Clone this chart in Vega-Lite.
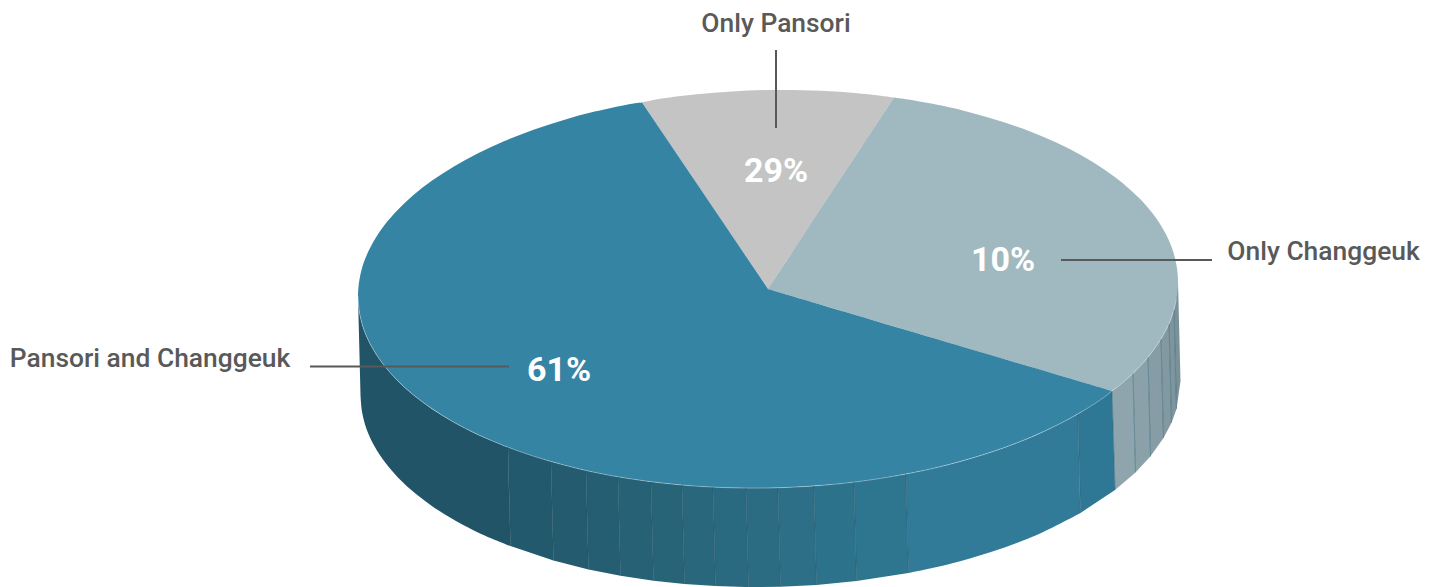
{
"$schema":"https://vega.github.io/schema/vega-lite/v6.json",
"width":1435,"height":587,"padding":0,"autosize":{"type":"none"},
"background":"#ffffff",
"config":{"view":{"stroke":null}},
"datasets":{
"facets":[
{"p":"side02","i":1,"x":-260,"y":-158.1},{"p":"side02","i":2,"x":-217,"y":-172.5},{"p":"side02","i":3,"x":-214.5,"y":-271.5},{"p":"side02","i":4,"x":-257.5,"y":-257.1},
{"p":"side03","i":1,"x":-217,"y":-172.5},{"p":"side03","i":2,"x":-182,"y":-181.4},{"p":"side03","i":3,"x":-179.5,"y":-280.4},{"p":"side03","i":4,"x":-214.5,"y":-271.5},
{"p":"side04","i":1,"x":-182,"y":-181.4},{"p":"side04","i":2,"x":-150,"y":-187.8},{"p":"side04","i":3,"x":-147.5,"y":-286.8},{"p":"side04","i":4,"x":-179.5,"y":-280.4},
{"p":"side05","i":1,"x":-150,"y":-187.8},{"p":"side05","i":2,"x":-117,"y":-192.7},{"p":"side05","i":3,"x":-114.5,"y":-291.7},{"p":"side05","i":4,"x":-147.5,"y":-286.8},
{"p":"side06","i":1,"x":-117,"y":-192.7},{"p":"side06","i":2,"x":-86,"y":-196.1},{"p":"side06","i":3,"x":-83.5,"y":-295.1},{"p":"side06","i":4,"x":-114.5,"y":-291.7},
{"p":"side07","i":1,"x":-86,"y":-196.1},{"p":"side07","i":2,"x":-55,"y":-198.1},{"p":"side07","i":3,"x":-52.5,"y":-297.1},{"p":"side07","i":4,"x":-83.5,"y":-295.1},
{"p":"side08","i":1,"x":-55,"y":-198.1},{"p":"side08","i":2,"x":-22,"y":-199.1},{"p":"side08","i":3,"x":-19.5,"y":-298.1},{"p":"side08","i":4,"x":-52.5,"y":-297.1},
{"p":"side09","i":1,"x":-22,"y":-199.1},{"p":"side09","i":2,"x":10,"y":-198.7},{"p":"side09","i":3,"x":12.5,"y":-297.7},{"p":"side09","i":4,"x":-19.5,"y":-298.1},
{"p":"side10","i":1,"x":10,"y":-198.7},{"p":"side10","i":2,"x":46,"y":-196.9},{"p":"side10","i":3,"x":48.5,"y":-295.9},{"p":"side10","i":4,"x":12.5,"y":-297.7},
{"p":"side11","i":1,"x":46,"y":-196.9},{"p":"side11","i":2,"x":86,"y":-193.1},{"p":"side11","i":3,"x":88.5,"y":-292.1},{"p":"side11","i":4,"x":48.5,"y":-295.9},
{"p":"side12","i":1,"x":86,"y":-193.1},{"p":"side12","i":2,"x":138,"y":-185},{"p":"side12","i":3,"x":140.5,"y":-284},{"p":"side12","i":4,"x":88.5,"y":-292.1},
{"p":"side14","i":1,"x":310,"y":-124.9},{"p":"side14","i":2,"x":344,"y":-102},{"p":"side14","i":3,"x":347,"y":-201},{"p":"side14","i":4,"x":312.5,"y":-223.9},
{"p":"side15","i":1,"x":344,"y":-102},{"p":"side15","i":2,"x":365,"y":-84.4},{"p":"side15","i":3,"x":367.5,"y":-183.4},{"p":"side15","i":4,"x":347,"y":-201},
{"p":"side16","i":1,"x":365,"y":-84.4},{"p":"side16","i":2,"x":380,"y":-68.2},{"p":"side16","i":3,"x":382.5,"y":-167.2},{"p":"side16","i":4,"x":367.5,"y":-183.4},
{"p":"side17","i":1,"x":380,"y":-68.2},{"p":"side17","i":2,"x":393,"y":-50},{"p":"side17","i":3,"x":395.5,"y":-149},{"p":"side17","i":4,"x":382.5,"y":-167.2},
{"p":"side18","i":1,"x":393,"y":-50},{"p":"side18","i":2,"x":401,"y":-34.7},{"p":"side18","i":3,"x":403.5,"y":-133.7},{"p":"side18","i":4,"x":395.5,"y":-149},
{"p":"side19","i":1,"x":401,"y":-34.7},{"p":"side19","i":2,"x":406,"y":-20.9},{"p":"side19","i":3,"x":408.5,"y":-119.9},{"p":"side19","i":4,"x":403.5,"y":-133.7},
{"p":"side20","i":1,"x":406,"y":-20.9},{"p":"side20","i":2,"x":410,"y":7},{"p":"side20","i":3,"x":412.5,"y":-92},{"p":"side20","i":4,"x":408.5,"y":-119.9}
],
"curved":[
{"p":"side01","i":0.5,"x":-410,"y":-7},{"p":"side01","i":1,"x":-410,"y":-7},{"p":"side01","i":2,"x":-408.4,"y":-24.3},{"p":"side01","i":3,"x":-403.8,"y":-41.4},{"p":"side01","i":4,"x":-396,"y":-58.3},{"p":"side01","i":5,"x":-385.3,"y":-74.6},{"p":"side01","i":6,"x":-371.6,"y":-90.4},{"p":"side01","i":7,"x":-355.1,"y":-105.6},{"p":"side01","i":8,"x":-335.9,"y":-119.9},{"p":"side01","i":9,"x":-314.1,"y":-133.3},{"p":"side01","i":10,"x":-289.9,"y":-145.7},{"p":"side01","i":11,"x":-260,"y":-158.1},{"p":"side01","i":11.5,"x":-260,"y":-158.1},{"p":"side01","i":12,"x":-257.5,"y":-257.1},{"p":"side01","i":12.5,"x":-257.5,"y":-257.1},{"p":"side01","i":13,"x":-287.4,"y":-244.7},{"p":"side01","i":14,"x":-311.6,"y":-232.3},{"p":"side01","i":15,"x":-333.4,"y":-218.9},{"p":"side01","i":16,"x":-352.6,"y":-204.6},{"p":"side01","i":17,"x":-369.1,"y":-189.4},{"p":"side01","i":18,"x":-382.8,"y":-173.6},{"p":"side01","i":19,"x":-393.5,"y":-157.3},{"p":"side01","i":20,"x":-401.3,"y":-140.4},{"p":"side01","i":21,"x":-405.9,"y":-123.3},{"p":"side01","i":22,"x":-407.5,"y":-106},{"p":"side01","i":22.5,"x":-407.5,"y":-106},
{"p":"side13","i":0.5,"x":138,"y":-185},{"p":"side13","i":1,"x":138,"y":-185},{"p":"side13","i":2,"x":180,"y":-175.7},{"p":"side13","i":3,"x":222,"y":-163.5},{"p":"side13","i":4,"x":265,"y":-147.4},{"p":"side13","i":5,"x":310,"y":-124.9},{"p":"side13","i":5.5,"x":310,"y":-124.9},{"p":"side13","i":6,"x":312.5,"y":-223.9},{"p":"side13","i":6.5,"x":312.5,"y":-223.9},{"p":"side13","i":7,"x":267.5,"y":-246.4},{"p":"side13","i":8,"x":224.5,"y":-262.5},{"p":"side13","i":9,"x":182.5,"y":-274.7},{"p":"side13","i":10,"x":140.5,"y":-284},{"p":"side13","i":10.5,"x":140.5,"y":-284},
{"p":"Only Pansori","i":0.5,"x":0,"y":0},{"p":"Only Pansori","i":1,"x":0,"y":0},{"p":"Only Pansori","i":1.5,"x":-126,"y":186.5},{"p":"Only Pansori","i":2,"x":-126,"y":186.5},{"p":"Only Pansori","i":3,"x":-106.1,"y":190.4},{"p":"Only Pansori","i":4,"x":-71.2,"y":194.8},{"p":"Only Pansori","i":5,"x":-35.8,"y":197.6},{"p":"Only Pansori","i":6,"x":0,"y":199},{"p":"Only Pansori","i":7,"x":35.8,"y":198.8},{"p":"Only Pansori","i":8,"x":71.2,"y":197.2},{"p":"Only Pansori","i":9,"x":106.1,"y":194},{"p":"Only Pansori","i":10,"x":126,"y":191.5},{"p":"Only Pansori","i":10.5,"x":126,"y":191.5},
{"p":"Only Changgeuk","i":0.5,"x":0,"y":0},{"p":"Only Changgeuk","i":1,"x":0,"y":0},{"p":"Only Changgeuk","i":1.5,"x":126,"y":191.5},{"p":"Only Changgeuk","i":2,"x":126,"y":191.5},{"p":"Only Changgeuk","i":3,"x":140.2,"y":189.4},{"p":"Only Changgeuk","i":4,"x":173.3,"y":183.4},{"p":"Only Changgeuk","i":5,"x":205,"y":175.8},{"p":"Only Changgeuk","i":6,"x":235.2,"y":167},{"p":"Only Changgeuk","i":7,"x":263.5,"y":156.9},{"p":"Only Changgeuk","i":8,"x":289.9,"y":145.7},{"p":"Only Changgeuk","i":9,"x":314.1,"y":133.3},{"p":"Only Changgeuk","i":10,"x":335.9,"y":119.8},{"p":"Only Changgeuk","i":11,"x":355.1,"y":105.6},{"p":"Only Changgeuk","i":12,"x":371.6,"y":90.4},{"p":"Only Changgeuk","i":13,"x":385.3,"y":74.7},{"p":"Only Changgeuk","i":14,"x":396,"y":58.3},{"p":"Only Changgeuk","i":15,"x":403.8,"y":41.5},{"p":"Only Changgeuk","i":16,"x":408.4,"y":24.3},{"p":"Only Changgeuk","i":17,"x":410,"y":7},{"p":"Only Changgeuk","i":18,"x":408.4,"y":-10.3},{"p":"Only Changgeuk","i":19,"x":403.8,"y":-27.7},{"p":"Only Changgeuk","i":20,"x":396,"y":-44.7},{"p":"Only Changgeuk","i":21,"x":385.3,"y":-61.5},{"p":"Only Changgeuk","i":22,"x":371.6,"y":-77.8},{"p":"Only Changgeuk","i":23,"x":355.1,"y":-93.4},{"p":"Only Changgeuk","i":24,"x":344,"y":-102},{"p":"Only Changgeuk","i":24.5,"x":344,"y":-102},
{"p":"Pansori and Changgeuk","i":0.5,"x":0,"y":0},{"p":"Pansori and Changgeuk","i":1,"x":0,"y":0},{"p":"Pansori and Changgeuk","i":1.5,"x":344,"y":-102},{"p":"Pansori and Changgeuk","i":2,"x":344,"y":-102},{"p":"Pansori and Changgeuk","i":3,"x":335.9,"y":-108.4},{"p":"Pansori and Changgeuk","i":4,"x":314.1,"y":-122.5},{"p":"Pansori and Changgeuk","i":5,"x":289.9,"y":-135.7},{"p":"Pansori and Changgeuk","i":6,"x":263.5,"y":-147.9},{"p":"Pansori and Changgeuk","i":7,"x":235.2,"y":-159},{"p":"Pansori and Changgeuk","i":8,"x":205,"y":-168.8},{"p":"Pansori and Changgeuk","i":9,"x":173.3,"y":-177.4},{"p":"Pansori and Changgeuk","i":10,"x":140.2,"y":-184.6},{"p":"Pansori and Changgeuk","i":11,"x":106.1,"y":-190.4},{"p":"Pansori and Changgeuk","i":12,"x":71.2,"y":-194.8},{"p":"Pansori and Changgeuk","i":13,"x":35.8,"y":-197.6},{"p":"Pansori and Changgeuk","i":14,"x":0,"y":-199},{"p":"Pansori and Changgeuk","i":15,"x":-35.8,"y":-198.8},{"p":"Pansori and Changgeuk","i":16,"x":-71.2,"y":-197.2},{"p":"Pansori and Changgeuk","i":17,"x":-106.1,"y":-194},{"p":"Pansori and Changgeuk","i":18,"x":-140.2,"y":-189.4},{"p":"Pansori and Changgeuk","i":19,"x":-173.3,"y":-183.4},{"p":"Pansori and Changgeuk","i":20,"x":-205,"y":-175.8},{"p":"Pansori and Changgeuk","i":21,"x":-235.2,"y":-167},{"p":"Pansori and Changgeuk","i":22,"x":-263.5,"y":-156.9},{"p":"Pansori and Changgeuk","i":23,"x":-289.9,"y":-145.7},{"p":"Pansori and Changgeuk","i":24,"x":-314.1,"y":-133.3},{"p":"Pansori and Changgeuk","i":25,"x":-335.9,"y":-119.8},{"p":"Pansori and Changgeuk","i":26,"x":-355.1,"y":-105.6},{"p":"Pansori and Changgeuk","i":27,"x":-371.6,"y":-90.4},{"p":"Pansori and Changgeuk","i":28,"x":-385.3,"y":-74.7},{"p":"Pansori and Changgeuk","i":29,"x":-396,"y":-58.3},{"p":"Pansori and Changgeuk","i":30,"x":-403.8,"y":-41.5},{"p":"Pansori and Changgeuk","i":31,"x":-408.4,"y":-24.3},{"p":"Pansori and Changgeuk","i":32,"x":-410,"y":-7},{"p":"Pansori and Changgeuk","i":33,"x":-408.4,"y":10.3},{"p":"Pansori and Changgeuk","i":34,"x":-403.8,"y":27.7},{"p":"Pansori and Changgeuk","i":35,"x":-396,"y":44.7},{"p":"Pansori and Changgeuk","i":36,"x":-385.3,"y":61.5},{"p":"Pansori and Changgeuk","i":37,"x":-371.6,"y":77.8},{"p":"Pansori and Changgeuk","i":38,"x":-355.1,"y":93.4},{"p":"Pansori and Changgeuk","i":39,"x":-335.9,"y":108.4},{"p":"Pansori and Changgeuk","i":40,"x":-314.1,"y":122.5},{"p":"Pansori and Changgeuk","i":41,"x":-289.9,"y":135.7},{"p":"Pansori and Changgeuk","i":42,"x":-263.5,"y":147.9},{"p":"Pansori and Changgeuk","i":43,"x":-235.2,"y":159},{"p":"Pansori and Changgeuk","i":44,"x":-205,"y":168.8},{"p":"Pansori and Changgeuk","i":45,"x":-173.3,"y":177.4},{"p":"Pansori and Changgeuk","i":46,"x":-140.2,"y":184.6},{"p":"Pansori and Changgeuk","i":47,"x":-126,"y":186.5},{"p":"Pansori and Changgeuk","i":47.5,"x":-126,"y":186.5}
],
"seams":[
{"k":"teal","x":-260,"y":-158.1,"x2":-257.5,"y2":-257.1},{"k":"teal","x":-217,"y":-172.5,"x2":-214.5,"y2":-271.5},{"k":"teal","x":-182,"y":-181.4,"x2":-179.5,"y2":-280.4},{"k":"teal","x":-150,"y":-187.8,"x2":-147.5,"y2":-286.8},{"k":"teal","x":-117,"y":-192.7,"x2":-114.5,"y2":-291.7},{"k":"teal","x":-86,"y":-196.1,"x2":-83.5,"y2":-295.1},{"k":"teal","x":-55,"y":-198.1,"x2":-52.5,"y2":-297.1},{"k":"teal","x":-22,"y":-199.1,"x2":-19.5,"y2":-298.1},{"k":"teal","x":10,"y":-198.7,"x2":12.5,"y2":-297.7},{"k":"teal","x":46,"y":-196.9,"x2":48.5,"y2":-295.9},{"k":"teal","x":86,"y":-193.1,"x2":88.5,"y2":-292.1},{"k":"teal","x":138,"y":-185,"x2":140.5,"y2":-284},{"k":"teal","x":310,"y":-124.9,"x2":312.5,"y2":-223.9},
{"k":"pale","x":344,"y":-102,"x2":347,"y2":-201},{"k":"pale","x":365,"y":-84.4,"x2":367.5,"y2":-183.4},{"k":"pale","x":380,"y":-68.2,"x2":382.5,"y2":-167.2},{"k":"pale","x":393,"y":-50,"x2":395.5,"y2":-149},{"k":"pale","x":401,"y":-34.7,"x2":403.5,"y2":-133.7},{"k":"pale","x":406,"y":-20.9,"x2":408.5,"y2":-119.9}
],
"leaders":[
{"x":8,"y":239,"x2":8,"y2":161},{"x":293,"y":29,"x2":444,"y2":29},{"x":-458,"y":-77.5,"x2":-259,"y2":-77.5}
],
"names":[
{"t":"Only Pansori","x":8,"y":257},{"t":"Only Changgeuk","x":555.5,"y":29},{"t":"Pansori and Changgeuk","x":-618,"y":-78}
],
"shares":[
{"t":"29%","x":8,"y":107},{"t":"10%","x":235,"y":18},{"t":"61%","x":-209,"y":-92}
]
},
"encoding":{
"x":{"field":"x","type":"quantitative","scale":{"domain":[-768,667],"nice":false,"zero":false},"axis":null},
"y":{"field":"y","type":"quantitative","scale":{"domain":[-298,289],"nice":false,"zero":false},"axis":null}
},
"layer":[
{"data":{"name":"facets"},
 "mark":{"type":"line","filled":true,"strokeWidth":0},
 "encoding":{
  "order":{"field":"i","type":"quantitative"},
  "color":{"field":"p","type":"nominal","legend":null,"sort":null,"scale":{
   "domain":["side01","side02","side03","side04","side05","side06","side07","side08","side09","side10","side11","side12","side13","side14","side15","side16","side17","side18","side19","side20","Only Pansori","Only Changgeuk","Pansori and Changgeuk"],
   "range":["#215467","#23596C","#245B6F","#255E72","#266175","#276478","#28677C","#2A6A80","#2B6C83","#2C6F87","#2D728B","#2E758F","#317B99","#2F7895","#8EA5AE","#8AA1AA","#869DA6","#8299A2","#7E959E","#7A919A","#C4C4C4","#A0B9C0","#3584A3"]}}
 }},
{"data":{"name":"curved"},
 "mark":{"type":"line","filled":true,"strokeWidth":0,"interpolate":"catmull-rom"},
 "encoding":{
  "order":{"field":"i","type":"quantitative"},
  "color":{"field":"p","type":"nominal","legend":null,"sort":null,"scale":{
   "domain":["side01","side02","side03","side04","side05","side06","side07","side08","side09","side10","side11","side12","side13","side14","side15","side16","side17","side18","side19","side20","Only Pansori","Only Changgeuk","Pansori and Changgeuk"],
   "range":["#215467","#23596C","#245B6F","#255E72","#266175","#276478","#28677C","#2A6A80","#2B6C83","#2C6F87","#2D728B","#2E758F","#317B99","#2F7895","#8EA5AE","#8AA1AA","#869DA6","#8299A2","#7E959E","#7A919A","#C4C4C4","#A0B9C0","#3584A3"]}}
 }},
{"data":{"name":"curved"},
 "transform":[{"filter":"(datum.p==='Only Changgeuk'||datum.p==='Pansori and Changgeuk')&&datum.y<0"}],
 "mark":{"type":"line","stroke":"#ffffff","strokeWidth":1,"opacity":0.35,"interpolate":"catmull-rom"},
 "encoding":{"detail":{"field":"p"},"order":{"field":"i","type":"quantitative"}}
},
{"data":{"name":"seams"},
 "mark":{"type":"rule","strokeWidth":1,"opacity":0.5},
 "encoding":{
  "x2":{"field":"x2"},"y2":{"field":"y2"},
  "color":{"field":"k","type":"nominal","legend":null,"scale":{"domain":["teal","pale"],"range":["#B5D2DC","#E0E8EB"]}}
 }},
{"data":{"name":"leaders"},
 "mark":{"type":"rule","stroke":"#595959","strokeWidth":2},
 "encoding":{"x2":{"field":"x2"},"y2":{"field":"y2"}}
},
{"data":{"name":"names"},
 "mark":{"type":"text","font":"Roboto","fontWeight":500,"fontSize":26.4,"fill":"#595959","align":"center","baseline":"alphabetic"},
 "encoding":{"text":{"field":"t"}}
},
{"data":{"name":"shares"},
 "mark":{"type":"text","font":"Roboto","fontWeight":700,"fontSize":34,"fill":"#ffffff","align":"center","baseline":"alphabetic"},
 "encoding":{"text":{"field":"t"}}
}
]
}
